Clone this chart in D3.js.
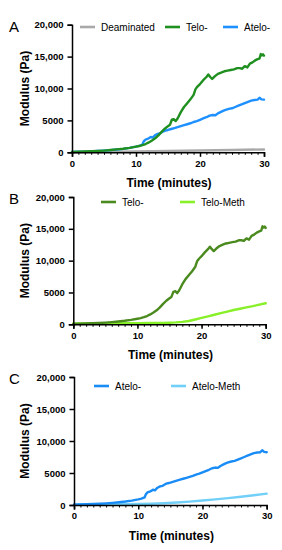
<!DOCTYPE html>
<html><head><meta charset="utf-8">
<script src="https://cdn.jsdelivr.net/npm/d3@7"></script>
<style>body{margin:0;background:#fff}svg{display:block}text{font-family:"Liberation Sans",Arial,sans-serif}</style>
</head><body>
<svg id="c" width="282" height="550"></svg>
<script>
// ---- data ----
const yTicks = [0, 5000, 10000, 15000, 20000];
const yTickLabels = ["0", "5000", "10,000", "15,000", "20,000"];
const xTicks = [0, 10, 20, 30];

const teloT = [0,1,2,3,4,5,6,7,8,9,10,10.5,11,11.5,12,12.5,13,13.5,14,14.5,15,15.3,15.6,15.9,16.2,16.5,17,17.5,18,18.5,19,19.3,19.6,20,20.5,21,21.3,21.6,21.9,22.3,22.8,23.3,23.8,24.3,24.8,25.3,25.8,26.2,26.6,27,27.4,27.8,28.2,28.6,29,29.3,29.5,29.7,29.85,30];
const teloV = [50,80,120,160,210,270,350,450,560,700,880,980,1120,1300,1550,1850,2200,2650,3200,3700,4100,4300,5100,5200,4900,5300,6300,7100,7700,8300,9000,9900,10300,10700,11300,11800,12200,11800,11500,11900,12300,12500,12700,12800,12900,13000,13200,13200,13100,13500,13300,13900,14100,14400,14600,14700,15400,15200,15350,15150];

const ateloT = [0,1,2,3,4,5,6,7,8,9,10,10.5,11,11.2,11.5,11.8,12,12.3,12.6,13,13.4,13.8,14.2,14.6,15,15.5,16,16.5,17,17.5,18,18.5,19,19.5,20,20.5,21,21.5,22,22.4,22.8,23.2,23.6,24,24.5,25,25.5,26,26.5,27,27.5,28,28.5,29,29.3,29.6,30];
const ateloV = [50,80,110,150,200,260,340,430,540,690,880,1000,1200,1700,2000,2100,2200,2400,2300,2700,2900,3000,3250,3400,3500,3650,3800,3950,4100,4250,4400,4550,4750,4900,5100,5300,5500,5750,5850,5800,6100,6300,6500,6650,6800,6900,7100,7300,7500,7700,7900,8100,8200,8250,8550,8300,8250];

const deamT = [0,5,10,15,20,25,30];
const deamV = [0,60,130,200,280,370,450];

const teloMethT = [0,2,4,6,8,10,12,14,15,16,17,18,19,20,21,22,23,24,25,26,27,28,29,30];
const teloMethV = [150,150,160,170,180,190,200,220,250,300,380,520,750,1000,1250,1500,1750,2000,2250,2450,2650,2850,3100,3300];

const ateloMethT = [0,2,4,6,8,10,12,14,16,18,20,22,24,26,28,30];
const ateloMethV = [100,110,120,130,140,160,200,280,380,520,700,880,1080,1280,1520,1770];

const series = {
  "Deaminated": {t: deamT, v: deamV},
  "Telo-": {t: teloT, v: teloV},
  "Atelo-": {t: ateloT, v: ateloV},
  "Telo-Meth": {t: teloMethT, v: teloMethV},
  "Atelo-Meth": {t: ateloMethT, v: ateloMethV}
};

// ---- layout ----
const panels = [
  {letter:"A", x0:72, x1:264, yb:152.3, yt:24.7, legY:27,
   items:[{n:"Deaminated",c:"#a9a9a9",lx:80},{n:"Telo-",c:"#1f8f1f",lx:165},{n:"Atelo-",c:"#1e90ff",lx:223}],
   draw:["Deaminated","Atelo-","Telo-"]},
  {letter:"B", x0:73.3, x1:265.7, yb:324.3, yt:197, legY:202,
   items:[{n:"Telo-",c:"#4a8a1e",lx:101},{n:"Telo-Meth",c:"#88f028",lx:180}],
   draw:["Telo-Meth","Telo-"]},
  {letter:"C", x0:74, x1:266.7, yb:505, yt:377, legY:386,
   items:[{n:"Atelo-",c:"#1a8cf5",lx:94},{n:"Atelo-Meth",c:"#72d0f8",lx:171}],
   draw:["Atelo-Meth","Atelo-"]}
];

const svg = d3.select("#c");

panels.forEach(p => {
  const x = d3.scaleLinear().domain([0,30]).range([p.x0,p.x1]);
  const y = d3.scaleLinear().domain([0,20000]).range([p.yb,p.yt]);
  const g = svg.append("g");
  const colorOf = {};
  p.items.forEach(it => colorOf[it.n] = it.c);

  // lines
  const line = d3.line().x(d=>x(d[0])).y(d=>y(d[1]));
  p.draw.forEach(name => {
    const s = series[name];
    const pts = s.t.map((t,i)=>[t, s.v[i]]);
    g.append("path").attr("d", line(pts)).attr("fill","none")
      .attr("stroke", colorOf[name]).attr("stroke-width", 2.4)
      .attr("stroke-linejoin","round").attr("stroke-linecap","round");
  });

  // x axis minor ticks
  const xAxisMinor = d3.axisBottom(x).tickValues(d3.range(0,31,1)).tickSize(2.5).tickFormat("");
  const gxm = g.append("g").attr("transform",`translate(0,${p.yb})`).call(xAxisMinor);
  gxm.select(".domain").remove();
  gxm.selectAll("line").attr("stroke","#000").attr("stroke-width",1);

  const xAxis = d3.axisBottom(x).tickValues(xTicks).tickSize(4.5).tickPadding(3).tickFormat(d3.format("d"));
  const gx = g.append("g").attr("transform",`translate(0,${p.yb})`).call(xAxis);
  gx.select(".domain").attr("stroke","#000").attr("stroke-width",1.5);
  gx.selectAll("line").attr("stroke","#000").attr("stroke-width",1.5);
  gx.selectAll("text").attr("font-size",9.5).attr("font-weight","bold").attr("fill","#000")
    .attr("font-family","'Liberation Sans',Arial,sans-serif");

  const yAxis = d3.axisLeft(y).tickValues(yTicks).tickSize(4.5).tickPadding(4)
    .tickFormat((d,i)=>yTickLabels[i]);
  const gy = g.append("g").attr("transform",`translate(${p.x0},0)`).call(yAxis);
  gy.select(".domain").attr("stroke","#000").attr("stroke-width",1.5);
  gy.selectAll("line").attr("stroke","#000").attr("stroke-width",1.5);
  gy.selectAll("text").attr("font-size",9.5).attr("font-weight","bold").attr("fill","#000")
    .attr("font-family","'Liberation Sans',Arial,sans-serif");

  // axis titles
  g.append("text").attr("x",(p.x0+p.x1)/2 + 1).attr("y",p.yb+35)
    .attr("text-anchor","middle").attr("font-size",12).attr("font-weight","bold").text("Time (minutes)");
  g.append("text").attr("transform",`translate(29,${(p.yb+p.yt)/2}) rotate(-90)`)
    .attr("text-anchor","middle").attr("font-size",12).attr("font-weight","bold").text("Modulus (Pa)");

  // panel letter
  g.append("text").attr("x",9).attr("y",p.yt+7).attr("font-size",15).text(p.letter);

  // legend
  p.items.forEach(it => {
    g.append("line").attr("x1",it.lx).attr("x2",it.lx+15).attr("y1",p.legY).attr("y2",p.legY)
      .attr("stroke",it.c).attr("stroke-width",2.6);
    g.append("text").attr("x",it.lx+21).attr("y",p.legY+3.5).attr("font-size",10).text(it.n);
  });
});
</script>
</body></html>
